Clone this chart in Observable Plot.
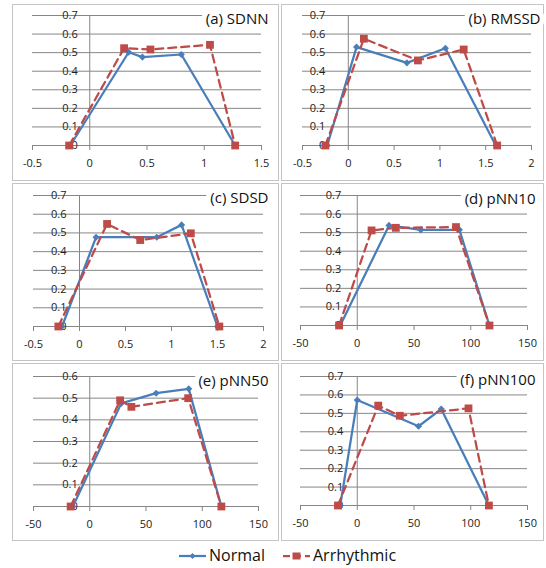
<!DOCTYPE html>
<html><head><meta charset="utf-8">
<script src="https://cdn.jsdelivr.net/npm/d3@7"></script>
<script src="https://cdn.jsdelivr.net/npm/@observablehq/plot@0.6"></script>
<style>
body{margin:0;background:#fff;font-family:"Open Sans",sans-serif;}
#root{position:relative;width:546px;height:568px;overflow:hidden;background:#fff;}
.box{position:absolute;box-sizing:border-box;border:1px solid #c4c4c4;}
.chart{position:absolute;}
.chart svg{overflow:visible;}
.leg{position:absolute;font-size:16px;line-height:20px;color:#111;white-space:nowrap;}
</style></head><body><div id="root"></div>
<script>
// ---- data ----
const seriesNames = ["Normal", "Arrhythmic"];
const titles = ["(a) SDNN", "(b) RMSSD", "(c) SDSD", "(d) pNN10", "(e) pNN50", "(f) pNN100"];

const ticksSmallX = [-0.5, 0, 0.5, 1, 1.5];
const ticksMidX = [-0.5, 0, 0.5, 1, 1.5, 2];
const ticksPctX = [-50, 0, 50, 100, 150];
const ticks07Y = [0, 0.1, 0.2, 0.3, 0.4, 0.5, 0.6, 0.7];
const ticks06Y = [0, 0.1, 0.2, 0.3, 0.4, 0.5, 0.6];

const sdnnNormalX = [-0.17, 0.34, 0.46, 0.80, 1.27];
const sdnnNormalY = [0, 0.502, 0.476, 0.49, 0];
const sdnnArrhX = [-0.18, 0.30, 0.53, 1.05, 1.27];
const sdnnArrhY = [0, 0.524, 0.517, 0.542, 0];

const rmssdNormalX = [-0.23, 0.09, 0.64, 1.06, 1.61];
const rmssdNormalY = [0, 0.53, 0.445, 0.524, 0];
const rmssdArrhX = [-0.25, 0.17, 0.76, 1.26, 1.625];
const rmssdArrhY = [0, 0.575, 0.458, 0.517, 0];

const sdsdNormalX = [-0.19, 0.18, 0.84, 1.11, 1.50];
const sdsdNormalY = [0, 0.477, 0.477, 0.543, 0];
const sdsdArrhX = [-0.23, 0.30, 0.66, 1.21, 1.52];
const sdsdArrhY = [0, 0.548, 0.462, 0.498, 0];

const pnn10NormalX = [-15, 28, 56, 90, 116.5];
const pnn10NormalY = [0, 0.539, 0.515, 0.515, 0];
const pnn10ArrhX = [-16, 12.6, 34, 87, 116.5];
const pnn10ArrhY = [0, 0.512, 0.526, 0.530, 0];

const pnn50NormalX = [-15, 28, 59, 88, 117];
const pnn50NormalY = [0, 0.476, 0.523, 0.543, 0];
const pnn50ArrhX = [-17, 27, 37, 87.5, 117];
const pnn50ArrhY = [0, 0.49, 0.46, 0.50, 0];

const pnn100NormalX = [-15, 0, 54, 74, 116];
const pnn100NormalY = [0, 0.572, 0.43, 0.523, 0];
const pnn100ArrhX = [-17, 18.5, 37.5, 98, 116];
const pnn100ArrhY = [0, 0.542, 0.487, 0.527, 0];

// ---- layout (positions / styles) ----
const layout = [
  {L:12, T:4,   W:267, H:177, px0:32,  px1:261, pyTop:15,  pyBot:145, ydx:-12, tdx:7,  tdy:4},
  {L:281,T:4,   W:263, H:177, px0:302, px1:531, pyTop:15,  pyBot:145, ydx:-23, tdx:9,  tdy:4},
  {L:12, T:183, W:267, H:178, px0:33,  px1:263, pyTop:195, pyBot:326, ydx:-13, tdx:5,  tdy:3},
  {L:281,T:183, W:263, H:178, px0:300, px1:527, pyTop:195, pyBot:325, ydx:-16, tdx:8,  tdy:4},
  {L:12, T:363, W:267, H:178, px0:33,  px1:258, pyTop:376, pyBot:506, ydx:-12, tdx:10, tdy:5},
  {L:281,T:363, W:263, H:178, px0:300, px1:527, pyTop:376, pyBot:505, ydx:-14, tdx:8,  tdy:4}
];
const BLUE = "#4a7ebb", RED = "#be4b48", GRID = "#868686";

const zip = (xs, ys) => xs.map((x, i) => ({x, y: ys[i]}));
const panels = [
  {xTicks: ticksSmallX, yTicks: ticks07Y, normal: zip(sdnnNormalX, sdnnNormalY), arrh: zip(sdnnArrhX, sdnnArrhY)},
  {xTicks: ticksMidX, yTicks: ticks07Y, normal: zip(rmssdNormalX, rmssdNormalY), arrh: zip(rmssdArrhX, rmssdArrhY)},
  {xTicks: ticksMidX, yTicks: ticks07Y, normal: zip(sdsdNormalX, sdsdNormalY), arrh: zip(sdsdArrhX, sdsdArrhY)},
  {xTicks: ticksPctX, yTicks: ticks07Y, normal: zip(pnn10NormalX, pnn10NormalY), arrh: zip(pnn10ArrhX, pnn10ArrhY)},
  {xTicks: ticksPctX, yTicks: ticks06Y, normal: zip(pnn50NormalX, pnn50NormalY), arrh: zip(pnn50ArrhX, pnn50ArrhY)},
  {xTicks: ticksPctX, yTicks: ticks07Y, normal: zip(pnn100NormalX, pnn100NormalY), arrh: zip(pnn100ArrhX, pnn100ArrhY)}
];

const root = document.getElementById("root");
panels.forEach((p, i) => {
  const c = layout[i];
  const box = document.createElement("div");
  box.className = "box";
  Object.assign(box.style, {left: c.L + "px", top: c.T + "px", width: c.W + "px", height: c.H + "px"});
  root.appendChild(box);
  const ymax = p.yTicks[p.yTicks.length - 1];
  const chart = Plot.plot({
    width: c.W, height: c.H,
    marginLeft: c.px0 - c.L, marginRight: c.L + c.W - c.px1,
    marginTop: c.pyTop - c.T, marginBottom: c.T + c.H - c.pyBot,
    x: {domain: [p.xTicks[0], p.xTicks[p.xTicks.length - 1]]},
    y: {domain: [0, ymax], axis: null},
    style: {fontFamily: '"Open Sans", sans-serif', fontSize: "11px", color: "#222", background: "transparent", overflow: "visible"},
    marks: [
      Plot.ruleY(p.yTicks, {stroke: GRID, strokeWidth: 1}),
      Plot.ruleX([0], {y1: 0, y2: ymax, stroke: GRID}),
      Plot.axisX({ticks: p.xTicks, tickSize: 5, tickPadding: 9, tickFormat: d => String(d), stroke: GRID, label: null}),
      Plot.text(p.yTicks, {x: 0, y: d => d, text: d => String(d), textAnchor: "end", dx: c.ydx, fill: "#222"}),
      Plot.line(p.normal, {x: "x", y: "y", stroke: BLUE, strokeWidth: 2.25}),
      Plot.dot(p.normal, {x: "x", y: "y", symbol: "diamond2", r: 3.2, fill: BLUE, stroke: null}),
      Plot.line(p.arrh, {x: "x", y: "y", stroke: RED, strokeWidth: 2.25, strokeDasharray: "8,5"}),
      Plot.dot(p.arrh, {x: "x", y: "y", symbol: "square", r: 4.4, fill: RED, stroke: null}),
      Plot.text([titles[i]], {frameAnchor: "top-right", text: d => d, dx: c.tdx, dy: c.tdy, textAnchor: "end", lineAnchor: "middle",
        fontSize: 15, fill: "#111", stroke: "white", strokeWidth: 10, paintOrder: "stroke"})
    ]
  });
  const wrap = document.createElement("div");
  wrap.className = "chart";
  Object.assign(wrap.style, {left: c.L + "px", top: c.T + "px"});
  wrap.appendChild(chart);
  root.appendChild(wrap);
});

// legend
function swatch(x, color, dashed, square) {
  const s = document.createElementNS("http://www.w3.org/2000/svg", "svg");
  s.setAttribute("width", 27); s.setAttribute("height", 12);
  s.style.position = "absolute"; s.style.left = x + "px"; s.style.top = "550px";
  const line = dashed
    ? `<line x1="0" x2="27" y1="6" y2="6" stroke="${color}" stroke-width="2.25" stroke-dasharray="7,4"/>`
    : `<line x1="0" x2="27" y1="6" y2="6" stroke="${color}" stroke-width="2.25"/>`;
  const mk = square
    ? `<rect x="9.5" y="2.5" width="8" height="7" fill="${color}"/>`
    : `<path d="M13.5,3 L16.5,6 L13.5,9 L10.5,6Z" fill="${color}"/>`;
  s.innerHTML = line + mk;
  root.appendChild(s);
}
function legText(x, t) {
  const d = document.createElement("div");
  d.className = "leg"; d.textContent = t;
  d.style.left = x + "px"; d.style.top = "545px";
  root.appendChild(d);
}
swatch(179, BLUE, false, false); legText(209, seriesNames[0]);
swatch(283, RED, true, true); legText(313, seriesNames[1]);
</script></body></html>
